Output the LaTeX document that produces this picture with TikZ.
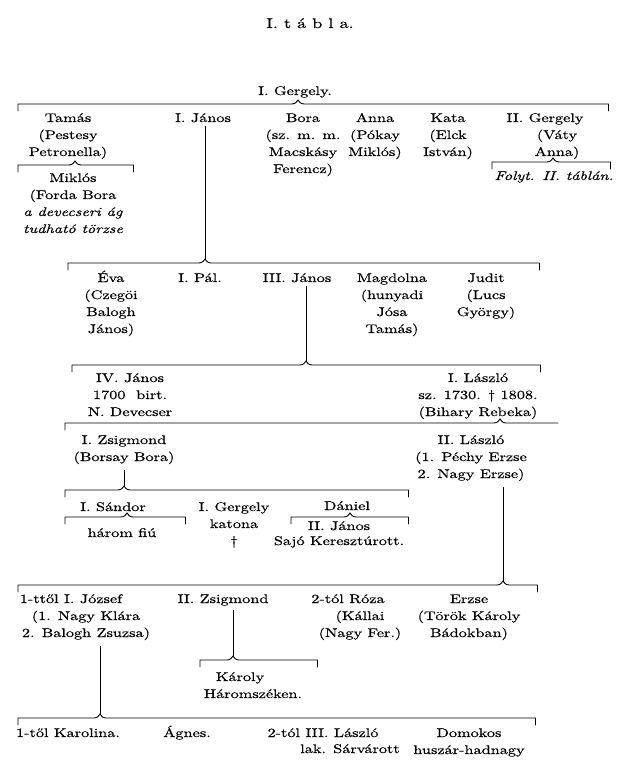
\documentclass[tikz,border=0pt]{standalone}
\usepackage{fontspec}
\setmainfont{lmroman10-regular.otf}[ItalicFont=lmroman10-italic.otf, BoldFont=lmroman10-bold.otf, FakeStretch=1.3, FakeBold=0.5]
\newcommand\gfont{\fontsize{12.5}{17}\selectfont}
\newcommand\gl[1]{\begin{tabular}[t]{@{}c@{}}#1\end{tabular}}
\newcommand\gbrk[6]{% name, y, left, mid, right, right tick (1/0)
  \coordinate (#1L) at (#3,#2);
  \coordinate (#1M) at (#4,#2);
  \coordinate (#1R) at (#5,#2);
  \coordinate (#1T) at (#4,#2-4);
  \draw[brk] ([yshift=-7pt]#1L) -- (#1L) -- ([xshift=-6pt]#1M)
    .. controls ([xshift=-2pt]#1M) and ([xshift=-1pt,yshift=3pt]#1M) .. (#1T)
    .. controls ([xshift=1pt,yshift=3pt]#1M) and ([xshift=2pt]#1M) .. ([xshift=6pt]#1M)
    -- (#1R);
  \ifnum#6=1 \draw[brk] (#1R) -- ([yshift=-7pt]#1R);\fi
}
\begin{document}
\begin{tikzpicture}[x=1pt,y=-1pt,
  gen/.style={font=\gfont, inner sep=1pt, anchor=base},
  brk/.style={line width=0.9pt, line cap=round},
  conn/.style={line width=0.9pt, shorten <=3pt}]
\useasboundingbox[fill=white] (0,0) rectangle (616,773);

% title
\node[gen, font=\fontsize{14}{17}\selectfont] (title) at (310,28) {I. t á b l a.};
\node[gen] (g1) at (295,95) {I. Gergely.};

% row 1
\gbrk{b1}{104}{18}{298}{608}{1}
\node[gen] (tamas) at (68,122) {\gl{Tamás\\(Pestesy\\Petronella)}};
\gbrk{bt}{165}{18}{75}{133}{1}
\node[gen] (miklos) at (73,182) {\gl{Miklós\\(Forda Bora\\\textit{a devecseri ág}\\\textit{tudható törzse}}};
\node[gen] (janos1) at (203,122) {I. János};
\node[gen] (bora) at (303,122) {\gl{Bora\\(sz. m. m.\\Macskásy\\Ferencz)}};
\node[gen] (anna) at (375,122) {\gl{Anna\\(Pókay\\Miklós)}};
\node[gen] (kata) at (448,122) {\gl{Kata\\(Elck\\István)}};
\node[gen] (gergely2) at (545,122) {II. Gergely};
\node[gen] (gergely2w) at (557,139) {\gl{(Váty\\Anna)}};
\gbrk{bg}{162}{492}{553}{610}{1}
\node[gen] (folyt) at (554,180) {\textit{Folyt. II. táblán.}};

% row 2
\gbrk{b2}{263}{68}{205}{539}{1}
\draw[conn] (janos1.south -| b2T) -- (b2T);
\node[gen] (eva) at (111,282) {\gl{Éva\\(Czegöi\\Balogh\\János)}};
\node[gen] (pal) at (200,282) {I. Pál.};
\node[gen] (janos3) at (297,282) {III. János};
\node[gen] (magdolna) at (392,282) {\gl{Magdolna\\(hunyadi\\Jósa\\Tamás)}};
\node[gen] (judit) at (486,282) {\gl{Judit\\(Lucs\\György)}};

% row 3
\gbrk{b3}{365}{72}{306}{540}{1}
\draw[conn] (janos3.south -| b3T) -- (b3T);
\node[gen] (janos4) at (130,382) {\gl{IV. János\\1700\ \ birt.\\N. Devecser}};
\node[gen] (laszlo1) at (478,382) {\gl{I. László\\sz. 1730. † 1808.\\(Bihary Rebeka)}};

% row 4
\gbrk{b4}{423}{65}{500}{558}{0}
\node[gen] (zsig1) at (124,444) {\gl{I. Zsigmond\\(Borsay Bora)}};
\node[gen] (laszlo2) at (471,444) {\gl{II. László\\(1. Péchy Erzse\\2. Nagy Erzse)}};

% row 5
\gbrk{b5}{490}{65}{124}{408}{1}
\draw[conn] (zsig1.south -| b5T) -- (b5T);
\node[gen] (sandor) at (113,511) {I. Sándor};
\gbrk{bs}{517}{65}{127}{185}{1}
\node[gen] (harom) at (122,537) {három fiú};
\node[gen] (gergely3) at (234,511) {\gl{I. Gergely\\katona\\†}};
\node[gen] (daniel) at (347,510) {Dániel};
\gbrk{bd}{517}{291}{350}{408}{1}
\node[gen, font=\fontsize{12.5}{15}\selectfont] (janos2) at (339,530) {\gl{II. János\\Sajó Keresztúrott.}};

% row 6
\gbrk{b6}{585}{18}{503}{537}{1}
\draw[conn] (laszlo2.south -| b6T) -- (b6T);
\node[gen] (jozsef) at (71,603) {1-ttől I. József};
\node[gen] (jozsefw) at (86,620) {\gl{(1. Nagy Klára\\2. Balogh Zsuzsa)}};
\node[gen] (zsig2) at (223,603) {II. Zsigmond};
\node[gen] (roza) at (348,603) {2-tól Róza};
\node[gen] (rozaw) at (360,620) {\gl{(Kállai\\(Nagy Fer.)}};
\node[gen] (erzse) at (469,603) {\gl{Erzse\\(Török Károly\\Bádokban)}};

\gbrk{b8}{660}{200}{233}{317}{1}
\draw[conn] (zsig2.south -| b8T) -- (b8T);
\node[gen] (karoly) at (240,681) {Károly};
\node[gen] (karolyh) at (253,698) {Háromszéken.};

% row 7
\gbrk{b7}{718}{18}{100}{535}{1}
\draw[conn] (jozsefw.south -| b7T) -- (b7T);
\node[gen] (karolina) at (68,737) {1-től Karolina.};
\node[gen] (agnes) at (187,737) {Ágnes.};
\node[gen] (laszlo3) at (323,737) {2-tól III. László};
\node[gen] (lak) at (350,753) {lak. Sárvárott};
\node[gen] (domokos) at (469,737) {\gl{Domokos\\huszár-hadnagy}};
\end{tikzpicture}
\end{document}
